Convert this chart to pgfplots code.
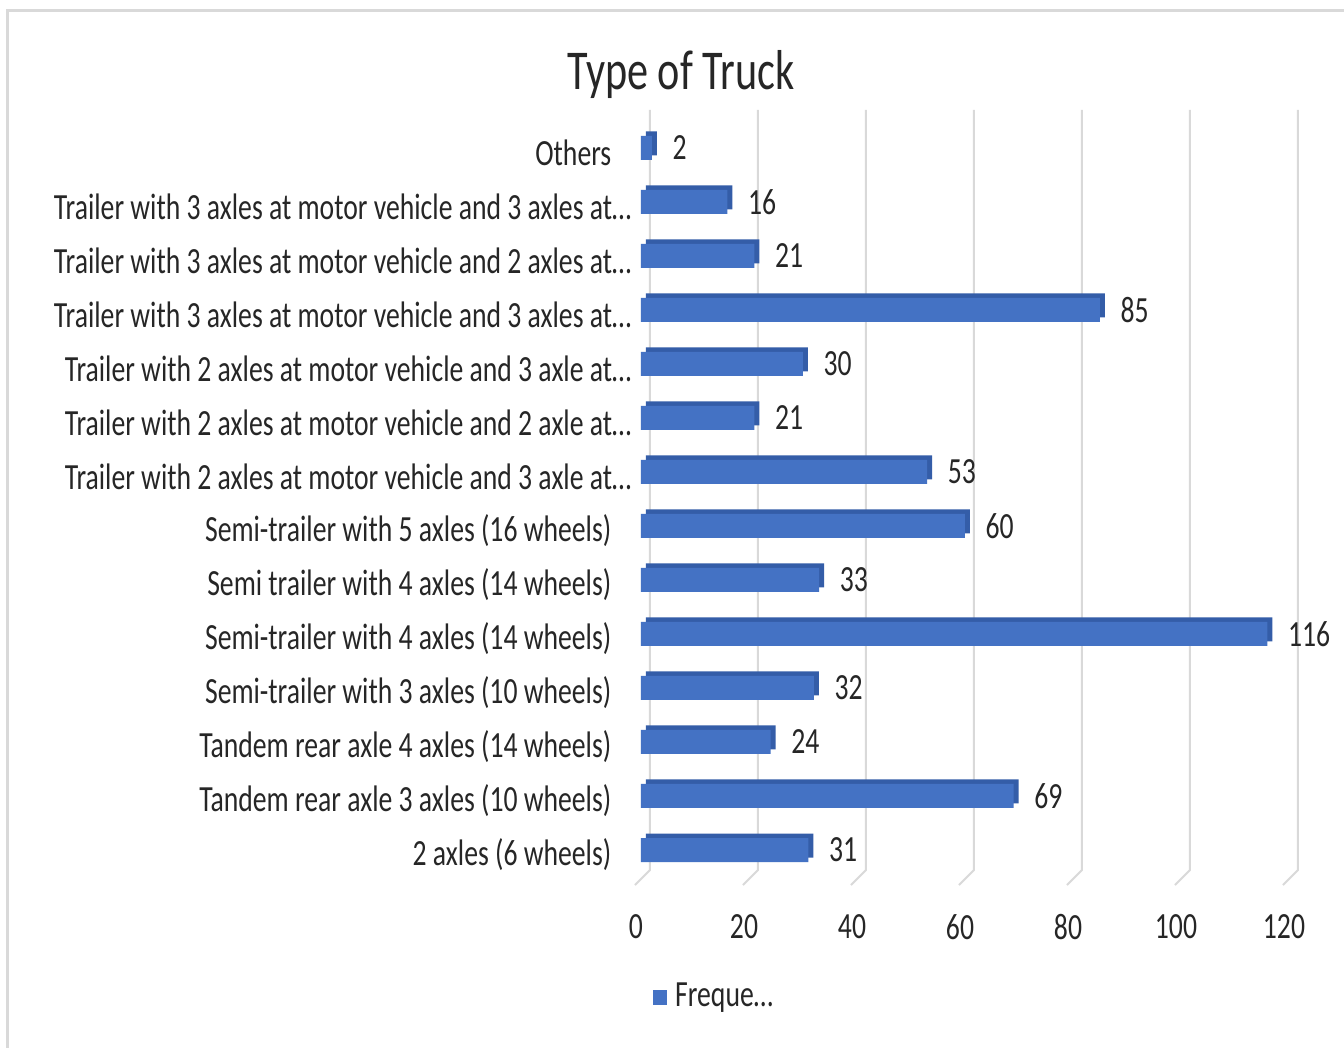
\documentclass[border=0pt]{standalone}
\usepackage{fontspec}
\setmainfont{Carlito}[FakeStretch=0.75]
\usepackage{pgfplots}
\pgfplotsset{compat=1.18}
\definecolor{barblue}{HTML}{4472C4}
\definecolor{bardark}{HTML}{345DA8}
\definecolor{gridc}{HTML}{D9D9D9}
\definecolor{txt}{HTML}{262626}
\begin{document}
\begin{tikzpicture}
\useasboundingbox (0,0) rectangle (13.44cm,-10.48cm);
\fill[white] (0,0) rectangle (13.44cm,-10.48cm);
\draw[gridc, line width=0.3mm] (0.07cm,-10.6cm) -- (0.07cm,-0.11cm) -- (13.6cm,-0.11cm);
\node[txt, font=\fontsize{16}{18}\selectfont] at (6.81cm,-0.75cm) {Type of Truck};
\begin{axis}[
  at={(6.41cm,-8.70cm)}, anchor=south west,
  scale only axis, width=6.48cm, height=7.60cm,
  xmin=0, xmax=120, ymin=-0.37, ymax=13.70,
  xbar, bar width=2.4mm,
  axis line style={draw=none}, major tick style={draw=none},
  xtick={0,20,...,120},
  ytick={0,...,13},
  yticklabels={
    2 axles (6 wheels),
    Tandem rear axle 3 axles (10 wheels),
    Tandem rear axle 4 axles (14 wheels),
    Semi-trailer with 3 axles (10 wheels),
    Semi-trailer with 4 axles (14 wheels),
    Semi trailer with 4 axles (14 wheels),
    Semi-trailer with 5 axles (16 wheels),
    Trailer with 2 axles at motor vehicle and 3 axle at…\kern-2mm,
    Trailer with 2 axles at motor vehicle and 2 axle at…\kern-2mm,
    Trailer with 2 axles at motor vehicle and 3 axle at…\kern-2mm,
    Trailer with 3 axles at motor vehicle and 3 axles at…\kern-2mm,
    Trailer with 3 axles at motor vehicle and 2 axles at…\kern-2mm,
    Trailer with 3 axles at motor vehicle and 3 axles at…\kern-2mm,
    Others},
  /pgf/number format/assume math mode=true,
  yticklabel style={anchor=east, inner sep=0pt, xshift=-1.4mm, yshift=-0.5mm, font=\fontsize{10.5}{12}\selectfont, text=txt},
  xticklabel style={anchor=center, inner sep=0pt, yshift=-5.7mm, xshift=-0.5mm, font=\fontsize{10.5}{12}\selectfont, text=txt},
  clip=false,
  legend style={draw=none, at={(0.117,-0.168)}, anchor=center, font=\fontsize{10.5}{12}\selectfont, text=txt, inner sep=0pt},
  legend image code/.code={\fill[barblue] (0mm,-0.7mm) rectangle (1.45mm,0.75mm);},
  legend style={/tikz/every even column/.append style={column sep=0pt}, nodes={inner sep=0.8mm}},
]
\pgfplotsinvokeforeach{0,20,...,120}{
  \draw[gridc, line width=0.2mm] ([xshift=0.9mm]axis cs:#1,13.70) -- ([xshift=0.9mm]axis cs:#1,-0.37) -- ++(-1.5mm,-1.5mm);
}
\addplot[fill=bardark, draw=none, xshift=0.5mm, yshift=0.45mm, forget plot] coordinates {
  (31,0) (69,1) (24,2) (32,3) (116,4) (33,5) (60,6)
  (53,7) (21,8) (30,9) (85,10) (21,11) (16,12) (2,13)
};
\addplot[fill=barblue, draw=none,
  nodes near coords,
  every node near coord/.append style={anchor=west, inner sep=0pt, xshift=2.0mm, font=\fontsize{10.5}{12}\selectfont, text=txt}] coordinates {
  (31,0) (69,1) (24,2) (32,3) (116,4) (33,5) (60,6)
  (53,7) (21,8) (30,9) (85,10) (21,11) (16,12) (2,13)
};
\legend{Freque…}
\end{axis}
\end{tikzpicture}
\end{document}
